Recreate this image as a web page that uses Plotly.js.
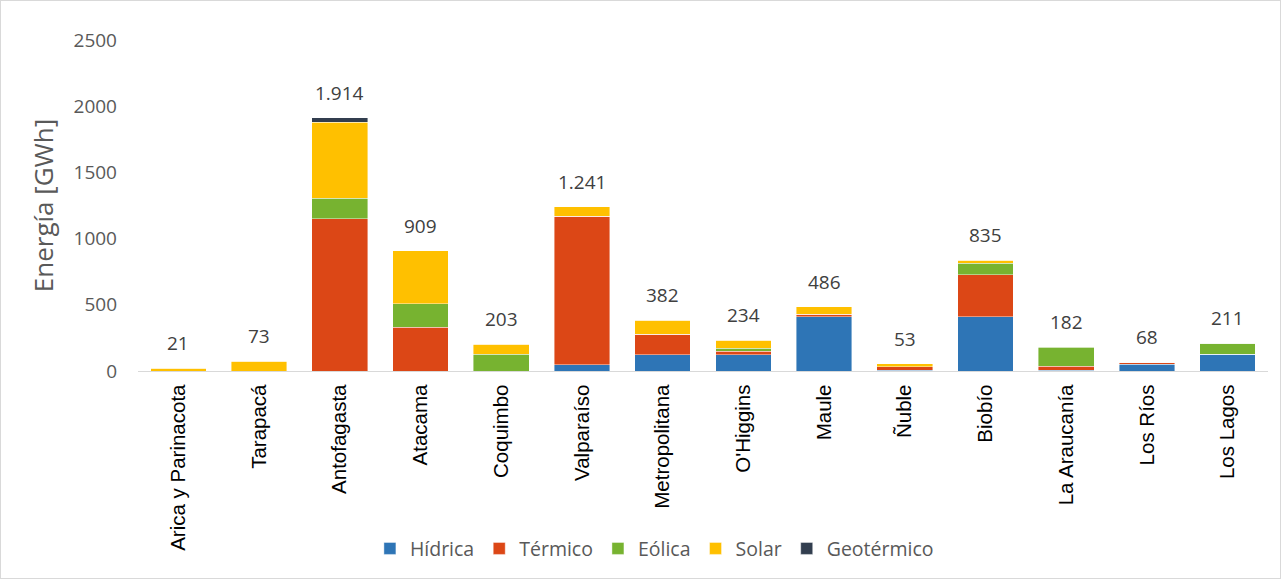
<!DOCTYPE html>
<html><head><meta charset="utf-8">
<script src="https://cdn.plot.ly/plotly-3.0.1.min.js"></script>
<style>html,body{margin:0;padding:0;background:#fff}#c{width:1279px;height:577px;border:1px solid #d9d9d9}</style>
</head><body><div id="c"></div>
<script>
const regiones = ["Arica y Parinacota","Tarapacá","Antofagasta","Atacama","Coquimbo","Valparaíso","Metropolitana","O'Higgins","Maule","Ñuble","Biobío","La Araucanía","Los Ríos","Los Lagos"];
const hidrica    = [0, 0, 0, 0, 0, 47, 123, 123, 408, 6, 408, 6, 50, 125];
const termico    = [0, 0, 1150, 332, 0, 1121, 156, 27, 20, 25, 318, 31, 18, 0];
const eolica     = [0, 0, 155, 177, 125, 0, 0, 20, 0, 0, 88, 143, 0, 86];
const solar      = [21, 73, 575, 400, 78, 73, 103, 64, 58, 22, 21, 2, 0, 0];
const geotermico = [0, 0, 34, 0, 0, 0, 0, 0, 0, 0, 0, 0, 0, 0];

const series = [
  {name:"Hídrica", y:hidrica, color:"#2E75B6"},
  {name:"Térmico", y:termico, color:"#DC4716"},
  {name:"Eólica", y:eolica, color:"#77B330"},
  {name:"Solar", y:solar, color:"#FFC000"},
  {name:"Geotérmico", y:geotermico, color:"#323E4F"}
];
const totals = regiones.map((_, i) => series.reduce((s, t) => s + t.y[i], 0));
const fmt = v => String(v).replace(/\B(?=(\d{3})+(?!\d))/g, ".");

const font = "'Open Sans', Lato, sans-serif";
const traces = series.map(s => ({
  type:"bar", name:s.name, x:regiones, y:s.y,
  marker:{color:s.color, line:{color:"rgba(255,255,255,0.6)", width:0.7}},
  hoverinfo:"name+y"
}));

const annotations = regiones.map((r, i) => ({
  x:r, y:totals[i], xref:"x", yref:"y", text:fmt(totals[i]), showarrow:false,
  yanchor:"bottom", yshift:10, font:{size:19, color:"#404040", family:font}
}));

const layout = {
  width:1279, height:577,
  barmode:"stack", bargap:0.31,
  margin:{l:137, r:12, t:39, b:207, autoexpand:false},
  paper_bgcolor:"#fff", plot_bgcolor:"#fff",
  font:{family:font, color:"#595959", size:18},
  xaxis:{tickangle:-90, showgrid:false, showline:true, linecolor:"#d9d9d9", linewidth:1.3,
         ticks:"", tickfont:{size:20.5, color:"#000", family:"'Liberation Sans', Arial, sans-serif"},
         ticklabelstandoff:4, automargin:false},
  yaxis:{range:[0,2500], dtick:500, tickformat:"d", showgrid:false, zeroline:false, showline:false,
         tickfont:{size:19, color:"#595959"}, ticklabelstandoff:20, automargin:false,
         title:{text:"Energía [GWh]", font:{size:26, color:"#595959"}, standoff:12}},
  legend:{orientation:"h", x:0.457, xanchor:"center", y:-0.537, yanchor:"middle", traceorder:"normal",
          font:{size:19.5, color:"#595959"}, itemwidth:30, tracegroupgap:0},
  annotations:annotations,
  showlegend:true
};
Plotly.newPlot("c", traces, layout, {displayModeBar:false, staticPlot:true});
</script></body></html>
